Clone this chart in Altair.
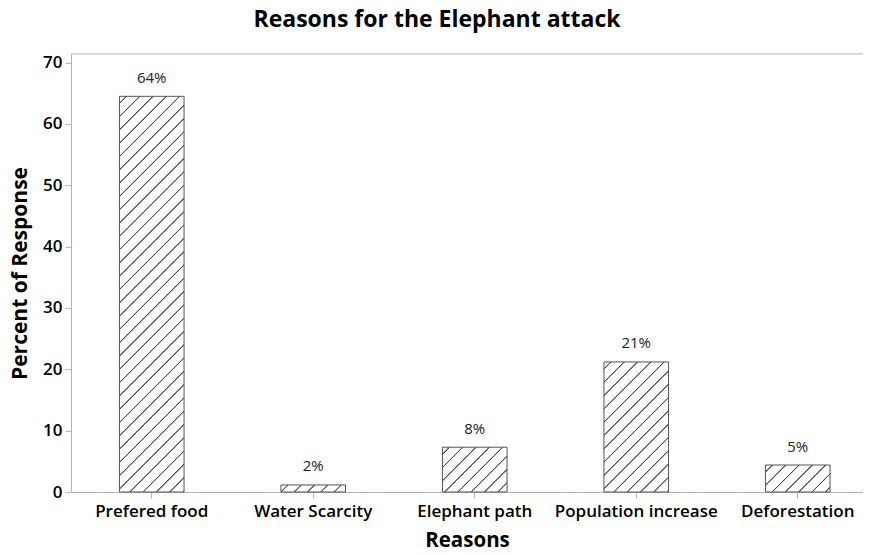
import altair as alt
import pandas as pd

# ---- data ----
reasons = ["Prefered food", "Water Scarcity", "Elephant path", "Population increase", "Deforestation"]
values = [64.5, 1.15, 7.3, 21.2, 4.4]
labels = ["64%", "2%", "8%", "21%", "5%"]
y_ticks = [0, 10, 20, 30, 40, 50, 60, 70]

df = pd.DataFrame({"reason": reasons, "value": values, "label": labels})

# ---- layout / style ----
W, H = 792, 438
YMAX = 71.4
STEP = 161.5
P_IN = 0.6
P_OUT = (W / STEP - (len(reasons) - P_IN)) / 2
ALIGN = 48.45 / (W - STEP * (len(reasons) - P_IN))
BAND = STEP * (1 - P_IN)
FONT = "Open Sans"
GRID = "#b4b4b4"
HATCH = "#4a4a4a"


def hatch_fill(w, h, spacing=13.3, phase=7.0):
    """Linear gradient with hard stops that looks like '/' hatching."""
    L = w + h
    stops = [{"offset": 0.0, "color": "#ffffff"}]
    c = phase
    last = 0.0
    while c - 1.2 < L:
        for off, col in ((c - 1.1, "#ffffff"), (c - 0.35, HATCH), (c + 0.35, HATCH), (c + 1.1, "#ffffff")):
            o = min(1.0, max(last, off / L))
            stops.append({"offset": o, "color": col})
            last = o
        c += spacing
    stops.append({"offset": 1.0, "color": "#ffffff"})
    k = L / (w * w + h * h)
    return {"gradient": "linear", "x1": 0, "y1": 0, "x2": w * k, "y2": h * k, "stops": stops}


x_enc = alt.X(
    "reason:N",
    sort=reasons,
    scale=alt.Scale(paddingInner=P_IN, paddingOuter=P_OUT, align=ALIGN),
    axis=alt.Axis(
        title="Reasons",
        labelAngle=0,
        labelFont=FONT,
        labelFontSize=17,
        labelFontWeight=600,
        labelColor="#000000",
        labelBaseline="alphabetic",
        labelPadding=18,
        tickSize=6,
        tickColor=GRID,
        domainColor=GRID,
        titleFont=FONT,
        titleFontSize=20.5,
        titleFontWeight="bold",
        titleColor="#000000",
        titleBaseline="alphabetic",
        titleY=54,
    ),
)
y_enc = alt.Y(
    "value:Q",
    scale=alt.Scale(domain=[0, YMAX], nice=False),
    axis=alt.Axis(
        title="Percent of Response",
        values=y_ticks,
        grid=False,
        labelFont=FONT,
        labelFontSize=17,
        labelFontWeight=600,
        labelColor="#000000",
        labelPadding=3,
        tickSize=6,
        tickColor=GRID,
        domainColor=GRID,
        titleFont=FONT,
        titleFontSize=21,
        titleFontWeight="bold",
        titleColor="#000000",
        titleBaseline="alphabetic",
        titleX=-44.5,
        titleY=H / 2,
    ),
)

base = alt.Chart(df)
layers = []
for r, v in zip(reasons, values):
    h = v * H / YMAX
    layers.append(
        base.transform_filter(alt.datum.reason == r)
        .mark_bar(fill=hatch_fill(BAND, h), stroke="#555555", strokeWidth=1)
        .encode(x=x_enc, y=y_enc)
    )

text = base.mark_text(
    dy=-13.5, baseline="alphabetic", font=FONT, fontSize=15, color="#222222"
).encode(x=x_enc, y=y_enc, text="label:N")

top_edge = alt.Chart(pd.DataFrame({"edge": [YMAX]})).mark_rule(color=GRID, strokeWidth=1).encode(
    y=alt.Y("edge:Q", scale=alt.Scale(domain=[0, YMAX], nice=False))
)

chart = (
    alt.layer(*layers, text, top_edge)
    .properties(
        width=W,
        height=H,
        autosize=alt.AutoSizeParams(type="none"),
        padding={"left": 63, "top": 46, "right": 0, "bottom": 55},
        title=alt.TitleParams(
            "Reasons for the Elephant attack",
            font=FONT,
            fontSize=23,
            fontWeight="bold",
            color="#000000",
            anchor="middle",
            baseline="alphabetic",
            dx=-30,
            offset=4,
        ),
    )
    .configure_view(stroke=None)
)

chart.save("out.html", embed_options={"renderer": "svg", "actions": False})
